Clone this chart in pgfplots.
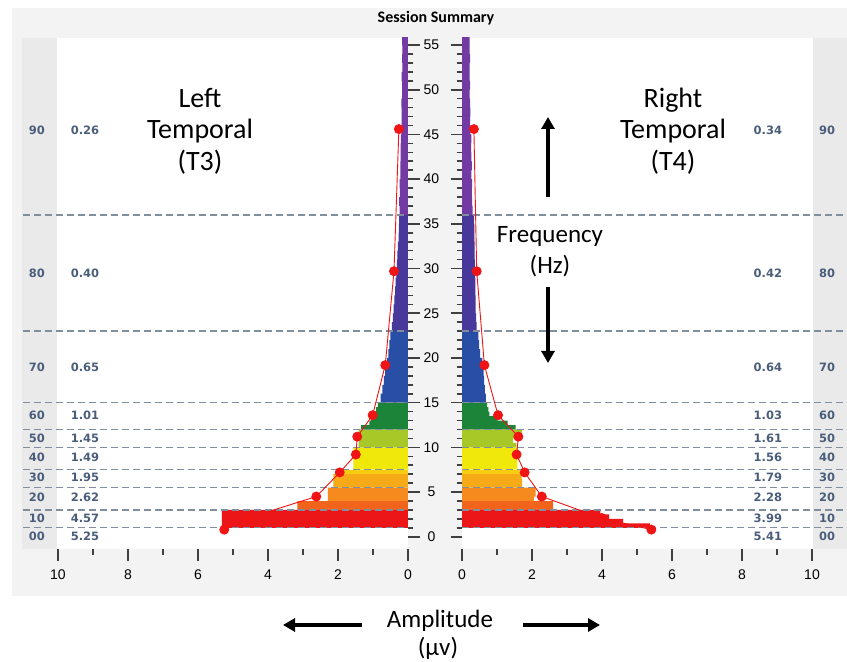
\documentclass[border=0pt]{standalone}
\usepackage{pgfplots}
\pgfplotsset{compat=1.18}
\usetikzlibrary{arrows.meta}
\usepackage{fontspec}
\setmainfont{Carlito}
\newfontfamily\tickfont{Liberation Sans}
\newfontfamily\pctfont{DejaVu Sans}
\definecolor{panelgray}{RGB}{243,243,243}
\definecolor{colgray}{RGB}{234,234,234}
\definecolor{pctcol}{RGB}{74,94,124}
\definecolor{dashcol}{RGB}{128,142,158}
\definecolor{cRed}{RGB}{236,22,24}
\definecolor{cDOrange}{RGB}{242,100,28}
\definecolor{cOrange}{RGB}{246,138,30}
\definecolor{cLOrange}{RGB}{246,170,24}
\definecolor{cYOrange}{RGB}{246,205,16}
\definecolor{cYellow}{RGB}{240,232,10}
\definecolor{cLime}{RGB}{168,200,40}
\definecolor{cGreen}{RGB}{28,132,56}
\definecolor{cBlue}{RGB}{40,78,165}
\definecolor{cIndigo}{RGB}{72,56,155}
\definecolor{cPurple}{RGB}{114,58,162}
\definecolor{cPoint}{RGB}{240,20,20}
\tikzset{
  pct/.style={font=\pctfont\bfseries\fontsize{11.5}{12}\selectfont, text=pctcol},
  dl/.style={dashcol, line width=1.3pt, dash pattern=on 7pt off 4pt},
}
\pgfplotsset{
  half/.style={
    scale only axis, width=351.05pt, height=511.4pt,
    xmin=0, xmax=10.03, ymin=-1.4, ymax=55.8,
    axis background/.style={fill=white},
    axis line style={draw=none},
    clip mode=individual,
    xtick={0,2,4,6,8,10}, minor xtick={1,3,5,7,9},
    xtick pos=bottom,
    ytick={0,5,...,55}, minor y tick num=4,
    tick align=outside,
    major tick length=11.5pt, minor tick length=5.5pt,
    every tick/.style={line width=1.6pt, black!75},
    every minor tick/.style={line width=1.6pt, black!75},
    /pgf/number format/assume math mode=true,
    ticklabel style={font=\tickfont\fontsize{14}{14}\selectfont},
    xticklabel style={anchor=center, yshift=-14pt},
  },
  hb/.style={xbar, bar width=#1, bar shift=0pt, draw=none},
  pts/.style={cPoint, line width=0.9pt, mark=*, mark size=4.5pt, mark options={solid, fill=cPoint, draw=cPoint}},
}
\begin{document}
\begin{tikzpicture}[x=1pt,y=1pt]
\useasboundingbox (0,0) rectangle (847,662);
\fill[white] (0,0) rectangle (847,662);
\fill[panelgray] (12,66) rectangle (847,654);
\fill[colgray] (22,112.7) rectangle (57,624);
\fill[colgray] (813,112.7) rectangle (847,624);
\node[font=\bfseries\fontsize{16}{18}\selectfont] at (436,644) {Session Summary};

% ---------------- LEFT (T3) ----------------
\begin{axis}[half, at={(56.95pt,112.7pt)}, anchor=south west, x dir=reverse,
  ytick pos=right, yticklabel pos=right,
  yticklabel style={anchor=center, xshift=12pt}]
\addplot[hb=0.5, fill=cRed] coordinates {(5.32,1.25) (5.32,1.75) (5.32,2.25) (5.32,2.75)};
\addplot[hb=0.5, fill=cDOrange] coordinates {(3.16,3.25) (3.16,3.75)};
\addplot[hb=0.5, fill=cOrange] coordinates {(2.29,4.25) (2.29,4.75) (2.29,5.25)};
\addplot[hb=0.5, fill=cLOrange] coordinates {(2.13,5.75) (2.13,6.25) (2.13,6.75)};
\addplot[hb=0.5, fill=cYOrange] coordinates {(1.84,7.25)};
\addplot[hb=0.5, fill=cYellow] coordinates {(1.56,7.75) (1.56,8.25) (1.56,8.75) (1.56,9.25) (1.56,9.75)};
\addplot[hb=0.5, fill=cLime] coordinates {(1.41,10.25) (1.41,10.75) (1.41,11.25) (1.41,11.75)};
\addplot[hb=0.5, fill=cGreen] coordinates {(1.34,12.25) (1.10,12.75) (1.06,13.25) (0.96,13.75) (0.91,14.25) (0.86,14.75)};
\addplot[hb=1, fill=cBlue] coordinates {(0.78,15.5) (0.73,16.5) (0.69,17.5) (0.65,18.5) (0.60,19.5) (0.56,20.5) (0.53,21.5) (0.50,22.5)};
\addplot[hb=1, fill=cIndigo] coordinates {(0.46,23.5) (0.43,24.5) (0.41,25.5) (0.39,26.5) (0.37,27.5) (0.35,28.5) (0.33,29.5) (0.32,30.5) (0.30,31.5) (0.29,32.5) (0.27,33.5) (0.26,34.5) (0.25,35.5)};
\addplot[hb=1, fill=cPurple] coordinates {(0.24,36.5) (0.25,37.5) (0.23,38.5) (0.24,39.5) (0.22,40.5) (0.22,41.5) (0.21,42.5) (0.21,43.5) (0.20,44.5) (0.19,45.5) (0.18,46.5) (0.18,47.5) (0.19,48.5) (0.17,49.5) (0.17,50.5) (0.18,51.5) (0.16,52.5) (0.17,53.5) (0.16,54.5) (0.17,55.5)};
\pgfplotsinvokeforeach{1,3,5.5,7.5,10,12,15,23,36}{
  \draw[dl] (axis cs:11.0,#1) -- (axis cs:0,#1);
}
\addplot[pts] coordinates {(5.25,0.8) (4.57,2.1) (2.62,4.5) (1.95,7.2) (1.49,9.2) (1.45,11.2) (1.01,13.6) (0.65,19.2) (0.40,29.7) (0.26,45.6)};
\node[pct] at (axis cs:10.6,45.5) {90};  \node[pct] at (axis cs:9.23,45.5) {0.26};
\node[pct] at (axis cs:10.6,29.5) {80};  \node[pct] at (axis cs:9.23,29.5) {0.40};
\node[pct] at (axis cs:10.6,19.0) {70};  \node[pct] at (axis cs:9.23,19.0) {0.65};
\node[pct] at (axis cs:10.6,13.6) {60};  \node[pct] at (axis cs:9.23,13.6) {1.01};
\node[pct] at (axis cs:10.6,11.0) {50};  \node[pct] at (axis cs:9.23,11.0) {1.45};
\node[pct] at (axis cs:10.6,8.9) {40};   \node[pct] at (axis cs:9.23,8.9) {1.49};
\node[pct] at (axis cs:10.6,6.7) {30};   \node[pct] at (axis cs:9.23,6.7) {1.95};
\node[pct] at (axis cs:10.6,4.45) {20};  \node[pct] at (axis cs:9.23,4.45) {2.62};
\node[pct] at (axis cs:10.6,2.1) {10};   \node[pct] at (axis cs:9.23,2.1) {4.57};
\node[pct] at (axis cs:10.6,0.0) {00};   \node[pct] at (axis cs:9.23,0.0) {5.25};
\end{axis}

% ---------------- RIGHT (T4) ----------------
\begin{axis}[half, at={(462pt,112.7pt)}, anchor=south west,
  ytick pos=left, yticklabels={}]
\addplot[hb=0.5, fill=cRed] coordinates {(5.37,1.25) (4.60,1.75) (4.20,2.25) (3.95,2.75)};
\addplot[hb=0.5, fill=cDOrange] coordinates {(2.60,3.25) (2.60,3.75)};
\addplot[hb=0.5, fill=cOrange] coordinates {(2.05,4.25) (2.10,4.75) (2.10,5.25)};
\addplot[hb=0.5, fill=cLOrange] coordinates {(1.72,5.75) (1.72,6.25) (1.70,6.75)};
\addplot[hb=0.5, fill=cYOrange] coordinates {(1.67,7.25)};
\addplot[hb=0.5, fill=cYellow] coordinates {(1.58,7.75) (1.58,8.25) (1.58,8.75) (1.58,9.25) (1.58,9.75)};
\addplot[hb=0.5, fill=cLime] coordinates {(1.55,10.25) (1.46,10.75) (1.72,11.25) (1.72,11.75)};
\addplot[hb=0.5, fill=cGreen] coordinates {(1.53,12.25) (1.30,12.75) (1.01,13.25) (0.78,13.75) (0.75,14.25) (0.72,14.75)};
\addplot[hb=1, fill=cBlue] coordinates {(0.68,15.5) (0.65,16.5) (0.63,17.5) (0.62,18.5) (0.58,19.5) (0.52,20.5) (0.49,21.5) (0.47,22.5)};
\addplot[hb=1, fill=cIndigo] coordinates {(0.42,23.5) (0.40,24.5) (0.39,25.5) (0.39,26.5) (0.38,27.5) (0.38,28.5) (0.37,29.5) (0.37,30.5) (0.36,31.5) (0.36,32.5) (0.35,33.5) (0.35,34.5) (0.34,35.5)};
\addplot[hb=1, fill=cPurple] coordinates {(0.30,36.5) (0.29,37.5) (0.28,38.5) (0.29,39.5) (0.27,40.5) (0.28,41.5) (0.27,42.5) (0.26,43.5) (0.27,44.5) (0.24,45.5) (0.23,46.5) (0.24,47.5) (0.23,48.5) (0.22,49.5) (0.23,50.5) (0.22,51.5) (0.22,52.5) (0.23,53.5) (0.22,54.5) (0.22,55.5)};
\pgfplotsinvokeforeach{1,3,5.5,7.5,10,12,15,23,36}{
  \draw[dl] (axis cs:0,#1) -- (axis cs:11.0,#1);
}
\addplot[pts] coordinates {(5.41,0.8) (3.99,2.1) (2.28,4.5) (1.79,7.2) (1.56,9.2) (1.61,11.2) (1.03,13.6) (0.64,19.2) (0.42,29.7) (0.34,45.6)};
\node[pct] at (axis cs:8.74,45.5) {0.34}; \node[pct] at (axis cs:10.43,45.5) {90};
\node[pct] at (axis cs:8.74,29.5) {0.42}; \node[pct] at (axis cs:10.43,29.5) {80};
\node[pct] at (axis cs:8.74,19.0) {0.64}; \node[pct] at (axis cs:10.43,19.0) {70};
\node[pct] at (axis cs:8.74,13.6) {1.03}; \node[pct] at (axis cs:10.43,13.6) {60};
\node[pct] at (axis cs:8.74,11.0) {1.61}; \node[pct] at (axis cs:10.43,11.0) {50};
\node[pct] at (axis cs:8.74,8.9) {1.56};  \node[pct] at (axis cs:10.43,8.9) {40};
\node[pct] at (axis cs:8.74,6.7) {1.79};  \node[pct] at (axis cs:10.43,6.7) {30};
\node[pct] at (axis cs:8.74,4.45) {2.28}; \node[pct] at (axis cs:10.43,4.45) {20};
\node[pct] at (axis cs:8.74,2.1) {3.99};  \node[pct] at (axis cs:10.43,2.1) {10};
\node[pct] at (axis cs:8.74,0.0) {5.41};  \node[pct] at (axis cs:10.43,0.0) {00};
\end{axis}

% ---------------- annotations ----------------
\node[align=center, font=\fontsize{28}{31.5}\selectfont] at (200,531) {Left\\Temporal\\(T3)};
\node[align=center, font=\fontsize{28}{31.5}\selectfont] at (673,531) {Right\\Temporal\\(T4)};
\node[align=center, font=\fontsize{25}{31}\selectfont] at (550,410) {Frequency\\(Hz)};
\draw[line width=3.5pt, -{Triangle[length=12pt,width=13pt]}] (548,465) -- (548,545);
\draw[line width=3.5pt, -{Triangle[length=12pt,width=13pt]}] (548,375) -- (548,299);
\node[font=\fontsize{25}{30}\selectfont] at (440,41) {Amplitude};
\node[font=\fontsize{25}{30}\selectfont] at (438,14) {(µv)};
\draw[line width=3.5pt, -{Triangle[length=12pt,width=13pt]}] (362,37) -- (283,37);
\draw[line width=3.5pt, -{Triangle[length=12pt,width=13pt]}] (523,37) -- (600,37);
\end{tikzpicture}
\end{document}
